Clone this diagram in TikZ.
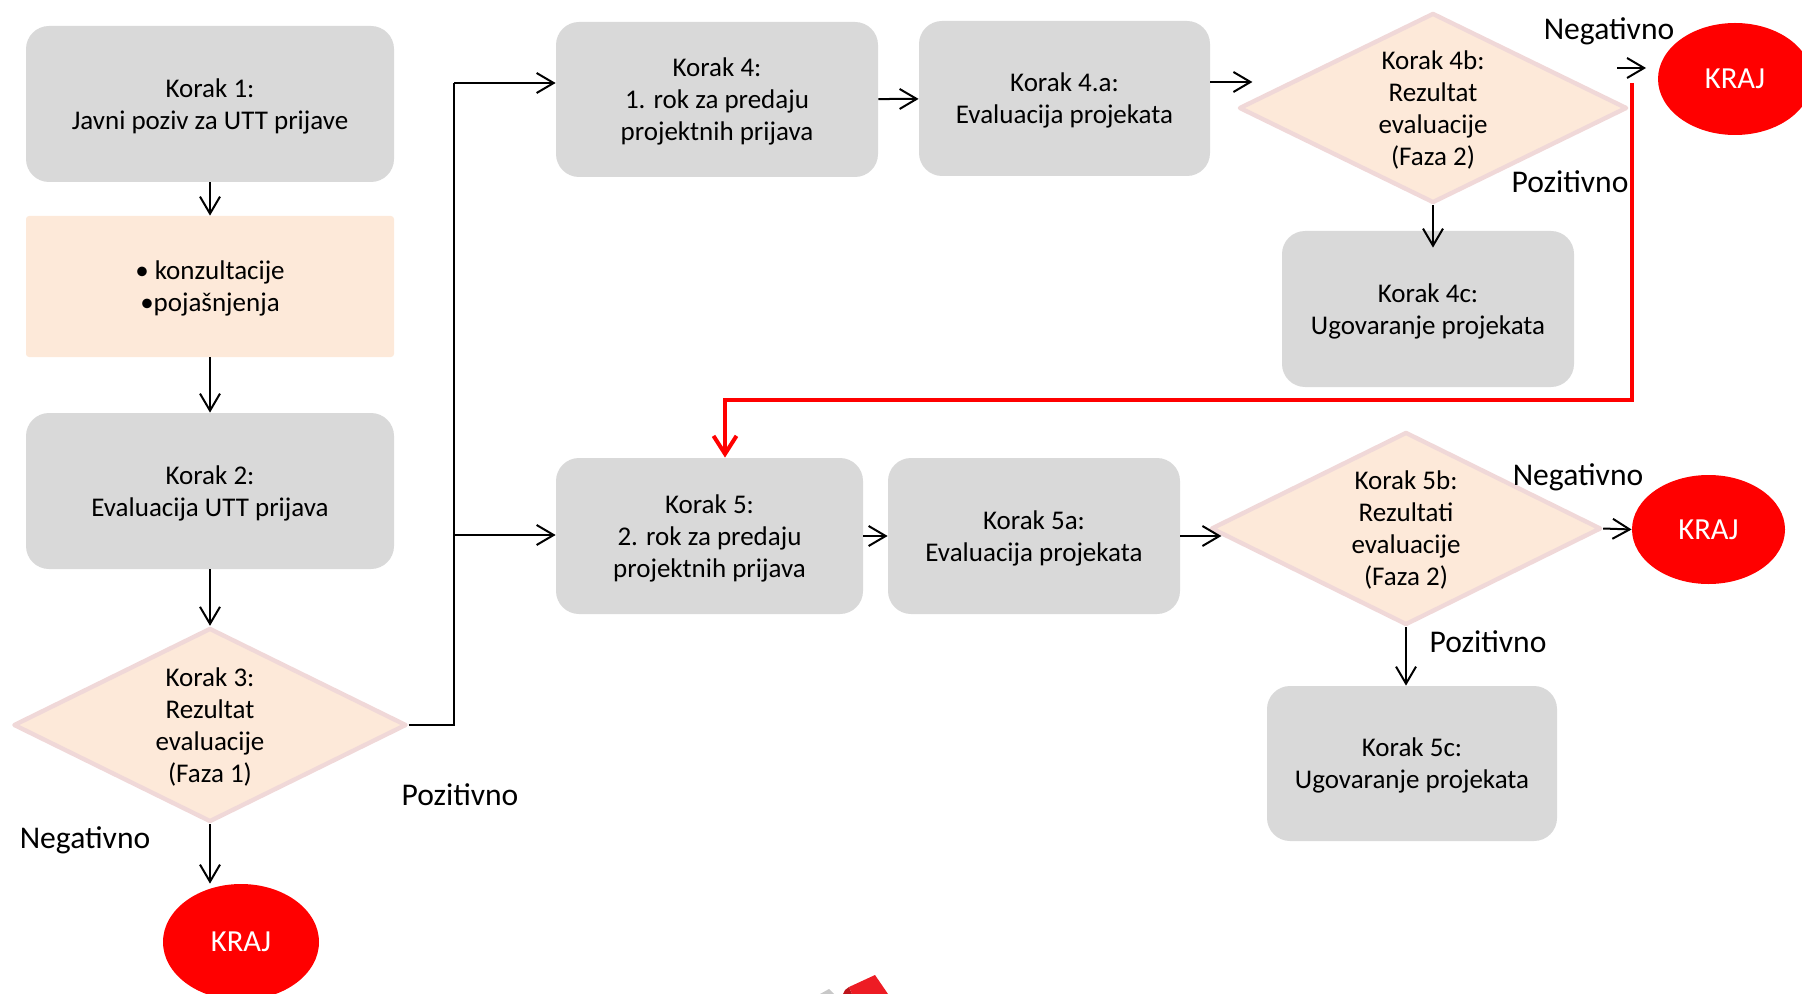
\documentclass[tikz,border=0pt]{standalone}
\usepackage{fontspec}
\setmainfont{Carlito}
\usetikzlibrary{shapes.geometric,arrows.meta,calc}
\definecolor{boxgrey}{RGB}{217,217,217}
\definecolor{peach}{RGB}{253,233,217}
\definecolor{pinkline}{RGB}{240,216,216}
\definecolor{kred}{RGB}{255,0,0}
\definecolor{logored}{RGB}{237,28,36}
\definecolor{logodark}{RGB}{190,20,26}
\definecolor{logogrey}{RGB}{200,200,200}
\begin{document}
\begin{tikzpicture}[x=0.5pt,y=-0.5pt,
  txt/.style={font=\fontsize{13.5}{16}\selectfont, align=center, text depth=0pt},
  greybox/.style={txt, fill=boxgrey, rounded corners=11.5pt, inner sep=0pt},
  peachbox/.style={txt, fill=peach, rounded corners=1.5pt, inner sep=0pt},
  decision/.style={txt, diamond, fill=peach, draw=pinkline, line width=2.2pt, line join=round, inner sep=0pt, aspect=2},
  endnode/.style={ellipse, fill=kred, text=white, font=\fontsize{15.3}{18}\selectfont, inner sep=0pt},
  lbl/.style={font=\fontsize{15.8}{19}\selectfont, inner sep=0pt},
  arr/.style={-{Straight Barb[length=8.5pt,width=10pt]}, line width=1pt},
  plainline/.style={line width=1pt},
  redarr/.style={-{Straight Barb[length=9pt,width=11.5pt]}, line width=2pt, draw=kred},
]
\useasboundingbox (0,0) rectangle (1802,994);

% left column
\node[greybox, minimum width=184pt, minimum height=78pt] (k1) at (210,104) {Korak 1:\\Javni poziv za UTT prijave};
\node[peachbox, minimum width=184pt, minimum height=70.5pt] (konz) at (210,286.5) {• konzultacije\\•pojašnjenja};
\node[greybox, minimum width=184pt, minimum height=78pt] (k2) at (210,491) {Korak 2:\\Evaluacija UTT prijava};
\node[decision, minimum width=196.5pt, minimum height=97pt] (d3) at (210,725) {Korak 3:\\Rezultat\\evaluacije\\(Faza 1)};
\node[endnode, minimum width=78pt, minimum height=58pt] (kraj1) at (241,942) {KRAJ};
\node[lbl] (neg1) at (85,840) {Negativno};
\node[lbl] (poz1) at (460,795) {Pozitivno};

% upper row
\node[greybox, minimum width=161pt, minimum height=77.5pt] (k4) at (717,99.5) {Korak 4:\\1. rok za predaju\\projektnih prijava};
\node[greybox, minimum width=145.5pt, minimum height=77.5pt] (k4a) at (1064.5,98.5) {Korak 4.a:\\Evaluacija projekata};
\node[decision, minimum width=194pt, minimum height=95pt] (d4b) at (1433,108) {Korak 4b:\\Rezultat\\evaluacije\\(Faza 2)};
\node[lbl] (neg2) at (1609,31) {Negativno};
\node[endnode, minimum width=77pt, minimum height=56pt] (kraj2) at (1735,79) {KRAJ};
\node[lbl] (poz2) at (1570,182) {Pozitivno};
\node[greybox, minimum width=146pt, minimum height=78pt] (k4c) at (1428,309) {Korak 4c:\\Ugovaranje projekata};

% lower row
\node[greybox, minimum width=153.5pt, minimum height=78pt] (k5) at (709.5,536) {Korak 5:\\2. rok za predaju\\projektnih prijava};
\node[greybox, minimum width=146pt, minimum height=78pt] (k5a) at (1034,536) {Korak 5a:\\Evaluacija projekata};
\node[decision, minimum width=195pt, minimum height=96.5pt] (d5b) at (1406,528.5) {Korak 5b:\\Rezultati\\evaluacije\\(Faza 2)};
\node[lbl] (neg3) at (1578,477) {Negativno};
\node[endnode, minimum width=76.5pt, minimum height=54.5pt] (kraj3) at (1708.5,529.5) {KRAJ};
\node[lbl] (poz3) at (1488,642) {Pozitivno};
\node[greybox, minimum width=145pt, minimum height=77.5pt] (k5c) at (1412,763.5) {Korak 5c:\\Ugovaranje projekata};

% connectors
\draw[arr] (k1) -- (konz);
\draw[arr] (konz) -- (k2);
\draw[arr] (k2) -- (d3);
\draw[arr] (d3.south) -- (d3.south |- kraj1.north);
\coordinate (j1) at (454,83);
\coordinate (j2) at (454,535);
\draw[plainline] (d3.east) -| (j1);
\draw[arr] (j1) -- (j1 -| k4.west);
\draw[arr] (j2) -- (j2 -| k5.west);
\draw[arr] (k4) -- (k4a);
\draw[arr] ([yshift=8.25pt]k4a.east) -- ++(42,0);
\coordinate (n2) at (1617,68);
\draw[arr] (n2) -- ++(29,0);
\coordinate (r1) at (1632,83);
\coordinate (r2) at (725,400);
\draw[redarr] (r1) |- (r2) -- (r2 |- k5.north);
\draw[arr] (d4b.south) -- ([yshift=-8.5pt]d4b.south |- k4c.north);
\draw[arr] (k5) -- (k5a);
\draw[arr] (k5a.east) -- ++(41,0);
\draw[arr] (d5b.east) -- (kraj3.west);
\draw[arr] (d5b.south) -- (d5b.south |- k5c.north);

% logo fragment at bottom edge
\fill[logogrey] (820,994) -- (829,989) -- (834,994) -- cycle;
\fill[logodark] (843,994) -- (845,990) -- (849,987) -- (852,994) -- cycle;
\fill[logored] (849,987) -- (875,975) -- (888,994) -- (852,994) -- cycle;
\end{tikzpicture}
\end{document}
